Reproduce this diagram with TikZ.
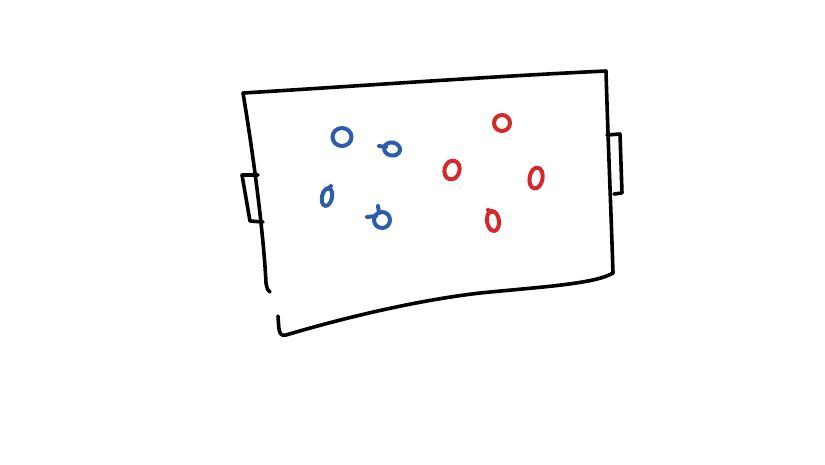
\documentclass[tikz,border=0pt]{standalone}
\usepackage{tikz}
\usetikzlibrary{calc}
\definecolor{teamblue}{RGB}{45,92,170}
\definecolor{teamred}{RGB}{212,40,42}
\tikzset{
  chalk/.style = {black, line width = 3.6pt, line cap = round, line join = round},
  blueink/.style = {teamblue, line width = 4pt, line cap = round},
  redink/.style = {teamred, line width = 4pt, line cap = round}
}

\begin{document}
\begin{tikzpicture}[x = 1pt, y = -1pt]
            \useasboundingbox (0, 0) rectangle (825, 464);

            \coordinate (top_left) at (243, 93);
            \coordinate (top_right) at (606, 71);
            \coordinate (bottom_right) at (613, 273);
            \coordinate (left_end) at (270, 292);
            \coordinate (bottom_start) at (278, 316);
            \coordinate (bottom_corner) at (286, 335);

            % pitch outline
            \draw[chalk](top_left) .. controls (360, 86) and (480, 77) .. (top_right);
            \draw[chalk](top_right) .. controls (608, 140) and (611, 210) .. (bottom_right);
            \draw[chalk](top_left) .. controls (255, 165) and (264, 240) .. (266, 283) .. controls (267, 289) and (268, 291) .. (left_end);
            \draw[chalk](bottom_start) .. controls (279, 328) and (278, 337) .. (bottom_corner) .. controls (350, 316) and (420, 300) .. (480, 293) .. controls (540, 287) and (595, 284) .. (bottom_right);

            % goals
            \draw[chalk](258, 175) -- (242, 175) -- (250, 221) -- (263, 222);
            \draw[chalk](607, 135) -- (620, 134) -- (622, 193) -- (614, 194);

            % blue team
            \coordinate (blue_a) at (342, 137);
            \coordinate (blue_b) at (392, 149);
            \coordinate (blue_c) at (327, 197);
            \coordinate (blue_d) at (382, 220);

            \draw[blueink](blue_a) ellipse (9.5pt and 9pt);
            \draw[blueink, rotate around = {-10:(blue_b)}](blue_b) ellipse (8pt and 6.5pt);
            \draw[blueink](379, 146) -- ($(blue_b) + (-6, -2)$);
            \draw[blueink, rotate around = {-12:(blue_c)}](blue_c) ellipse (5pt and 9pt);
            \draw[blueink](331, 186) -- ($(blue_c) + (1, -8)$);
            \draw[blueink](blue_d) ellipse (8pt and 8pt);
            \draw[blueink](367, 217) -- ($(blue_d) + (-6, -4)$);
            \draw[blueink](378, 206) -- ($(blue_d) + (-3, -7)$);

            % red team
            \coordinate (red_a) at (502, 123);
            \coordinate (red_b) at (452, 170);
            \coordinate (red_c) at (536, 178);
            \coordinate (red_d) at (493, 221);

            \draw[redink](red_a) ellipse (8pt and 8pt);
            \draw[redink, rotate around = {-15:(red_b)}](red_b) ellipse (7.5pt and 9.5pt);
            \draw[redink, rotate around = {-10:(red_c)}](red_c) ellipse (6.5pt and 10.5pt);
            \draw[redink, rotate around = {8:(red_d)}](red_d) ellipse (6pt and 10pt);
            \draw[redink](488, 210) -- ($(red_d) + (-1, -9)$);
        \end{tikzpicture}
\end{document}
